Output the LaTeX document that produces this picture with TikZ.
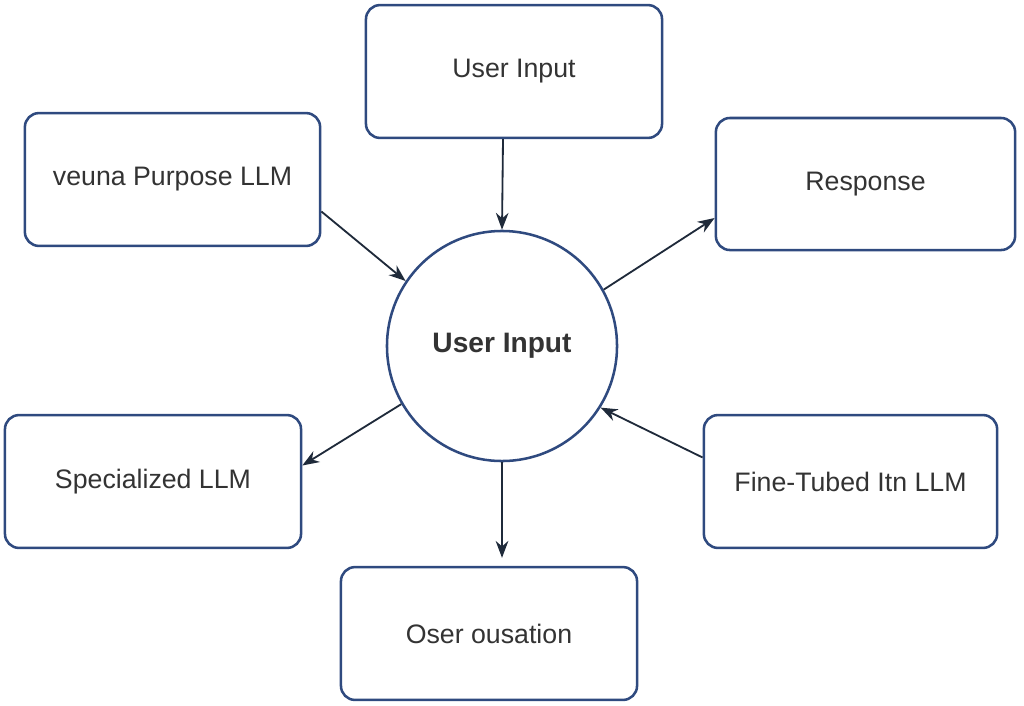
\documentclass[tikz,border=0pt]{standalone}
\usepackage{fontspec}
\setmainfont{Liberation Sans}
\usetikzlibrary{arrows.meta}
\definecolor{boxblue}{HTML}{2F4A7F}
\definecolor{arrowdark}{HTML}{1F2A3A}
\definecolor{txtgray}{HTML}{333333}
\begin{document}
\begin{tikzpicture}[x=0.025cm,y=-0.025cm,
  box/.style={draw=boxblue,line width=1.8pt,rounded corners=10pt,fill=white,
    text=txtgray,font=\fontsize{19}{22}\selectfont},
  hub/.style={circle,draw=boxblue,line width=1.8pt,minimum size=5.75cm,
    text=txtgray,font=\fontsize{20}{24}\selectfont\bfseries},
  flow/.style={-{Stealth[length=12pt,width=9pt]},draw=arrowdark,line width=1.3pt}]
  \useasboundingbox (0,0) rectangle (1024,705);

  \node[hub] (hub) at (502,346) {User Input};
  \node[box,minimum width=7.4cm,minimum height=3.32cm] (input) at (514,71.5) {User Input};
  \node[box,minimum width=7.38cm,minimum height=3.32cm] (general) at (172.5,179.5) {veuna Purpose LLM};
  \node[box,minimum width=7.48cm,minimum height=3.3cm] (response) at (865.5,184) {Response};
  \node[box,minimum width=7.4cm,minimum height=3.32cm] (special) at (153,481.5) {Specialized LLM};
  \node[box,minimum width=7.33cm,minimum height=3.32cm] (finetuned) at (850.5,481.5) {Fine-Tubed Itn LLM};
  \node[box,minimum width=7.4cm,minimum height=3.32cm] (output) at (489,633.5) {Oser ousation};

  % connectors
  \draw[flow] ([xshift=-11*0.025cm]input.south) -- (hub.north);
  \draw[flow] ([yshift=-0.8cm]general.east) -- (hub.146);
  \draw[flow] (hub.29) -- ([yshift=-0.85cm]response.west);
  \draw[flow] (hub.210) -- ([yshift=0.4cm]special.east);
  \draw[flow] ([yshift=0.6cm]finetuned.west) -- (hub.328);
  \draw[flow] (hub.south) -- ([xshift=13*0.025cm,yshift=0.2cm]output.north);
\end{tikzpicture}
\end{document}
